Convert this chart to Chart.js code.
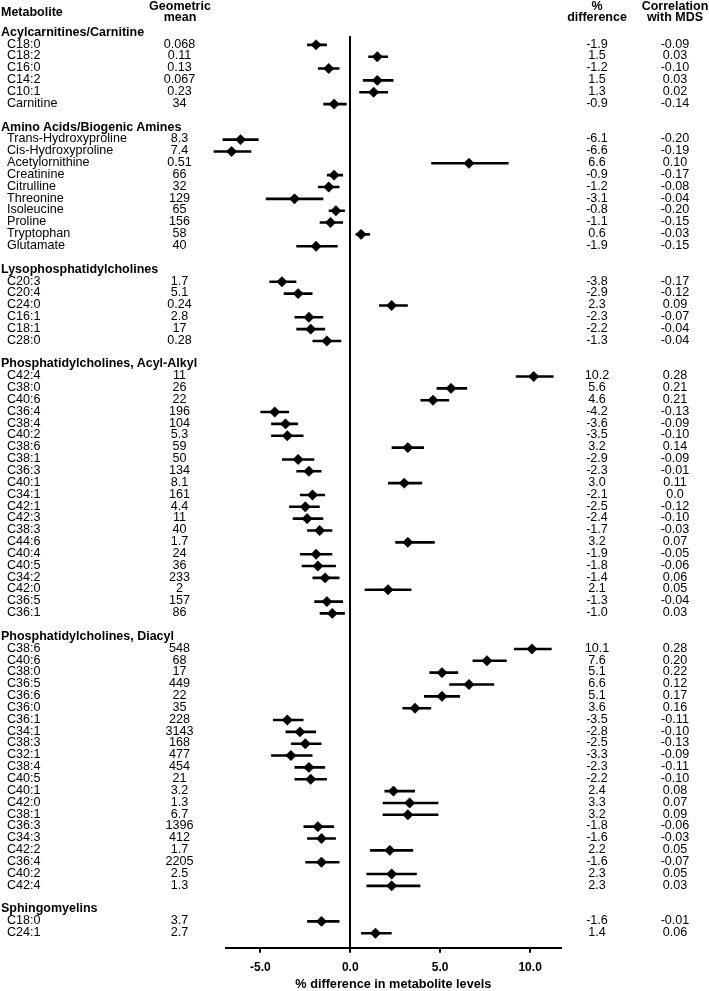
<!DOCTYPE html>
<html><head><meta charset="utf-8">
<script src="https://cdn.jsdelivr.net/npm/chart.js@4.4.1/dist/chart.umd.min.js"></script>
<style>
html,body{margin:0;padding:0;background:#fff;}
#wrap{position:relative;width:709px;height:991px;overflow:hidden;}
#c{position:absolute;left:0;top:0;}
.t{position:absolute;white-space:nowrap;font-family:'Liberation Sans',Arial,sans-serif;font-size:12.6px;line-height:14px;color:#000;}
.b{font-weight:bold;font-size:12.5px;}
.c{text-align:center;width:120px;}
</style></head><body>
<div id="wrap"><canvas id="c" width="709" height="991"></canvas></div>
<script>
// ---- data ----
const groupNames = ['Acylcarnitines/Carnitine','Amino Acids/Biogenic Amines','Lysophosphatidylcholines',
  'Phosphatidylcholines, Acyl-Alkyl','Phosphatidylcholines, Diacyl','Sphingomyelins'];
const groupSizes = [6,10,6,21,21,2];

const metabolites = [
  'C18:0','C18:2','C16:0','C14:2','C10:1','Carnitine',
  'Trans-Hydroxyproline','Cis-Hydroxyproline','Acetylornithine','Creatinine','Citrulline','Threonine','Isoleucine','Proline','Tryptophan','Glutamate',
  'C20:3','C20:4','C24:0','C16:1','C18:1','C28:0',
  'C42:4','C38:0','C40:6','C36:4','C38:4','C40:2','C38:6','C38:1','C36:3','C40:1','C34:1','C42:1','C42:3','C38:3','C44:6','C40:4','C40:5','C34:2','C42:0','C36:5','C36:1',
  'C38:6','C40:6','C38:0','C36:5','C36:6','C36:0','C36:1','C34:1','C38:3','C32:1','C38:4','C40:5','C40:1','C42:0','C38:1','C36:3','C34:3','C42:2','C36:4','C40:2','C42:4',
  'C18:0','C24:1'];

const geoMeans = [
  '0.068','0.11','0.13','0.067','0.23','34',
  '8.3','7.4','0.51','66','32','129','65','156','58','40',
  '1.7','5.1','0.24','2.8','17','0.28',
  '11','26','22','196','104','5.3','59','50','134','8.1','161','4.4','11','40','1.7','24','36','233','2','157','86',
  '548','68','17','449','22','35','228','3143','168','477','454','21','3.2','1.3','6.7','1396','412','1.7','2205','2.5','1.3',
  '3.7','2.7'];

const pctDiff = [
  -1.9,1.5,-1.2,1.5,1.3,-0.9,
  -6.1,-6.6,6.6,-0.9,-1.2,-3.1,-0.8,-1.1,0.6,-1.9,
  -3.8,-2.9,2.3,-2.3,-2.2,-1.3,
  10.2,5.6,4.6,-4.2,-3.6,-3.5,3.2,-2.9,-2.3,3.0,-2.1,-2.5,-2.4,-1.7,3.2,-1.9,-1.8,-1.4,2.1,-1.3,-1.0,
  10.1,7.6,5.1,6.6,5.1,3.6,-3.5,-2.8,-2.5,-3.3,-2.3,-2.2,2.4,3.3,3.2,-1.8,-1.6,2.2,-1.6,2.3,2.3,
  -1.6,1.4];

const ciLow = [
  -2.4,1.0,-1.8,0.7,0.5,-1.5,
  -7.1,-7.6,4.5,-1.3,-1.8,-4.7,-1.2,-1.7,0.3,-3.0,
  -4.5,-3.7,1.6,-3.1,-3.0,-2.1,
  9.2,4.8,3.9,-5.0,-4.4,-4.4,2.3,-3.8,-3.0,2.1,-2.8,-3.4,-3.2,-2.4,2.5,-2.8,-2.7,-2.1,0.8,-2.0,-1.7,
  9.1,6.8,4.4,5.5,4.1,2.9,-4.3,-3.6,-3.3,-4.4,-3.1,-3.1,1.9,1.8,1.8,-2.6,-2.4,1.1,-2.5,0.9,0.9,
  -2.4,0.6];

const ciHigh = [
  -1.3,2.1,-0.6,2.4,2.1,-0.2,
  -5.1,-5.5,8.8,-0.4,-0.6,-1.5,-0.3,-0.4,1.1,-0.7,
  -3.0,-2.1,3.2,-1.5,-1.4,-0.5,
  11.3,6.5,5.5,-3.4,-2.9,-2.6,4.1,-2.0,-1.6,4.0,-1.4,-1.7,-1.5,-1.0,4.7,-1.0,-0.8,-0.6,3.4,-0.4,-0.3,
  11.2,8.7,6.0,8.0,6.1,4.5,-2.6,-1.9,-1.6,-2.1,-1.4,-1.3,3.6,4.9,4.9,-0.9,-0.8,3.5,-0.6,3.7,3.9,
  -0.6,2.3];

const corrMDS = [
  '-0.09','0.03','-0.10','0.03','0.02','-0.14',
  '-0.20','-0.19','0.10','-0.17','-0.08','-0.04','-0.20','-0.15','-0.03','-0.15',
  '-0.17','-0.12','0.09','-0.07','-0.04','-0.04',
  '0.28','0.21','0.21','-0.13','-0.09','-0.10','0.14','-0.09','-0.01','0.11','0.0','-0.12','-0.10','-0.03','0.07','-0.05','-0.06','0.06','0.05','-0.04','0.03',
  '0.28','0.20','0.22','0.12','0.17','0.16','-0.11','-0.10','-0.13','-0.09','-0.11','-0.10','0.08','0.07','0.09','-0.06','-0.03','0.05','-0.07','0.05','0.03',
  '-0.01','0.06'];

const xTickValues = [-5, 0, 5, 10];

// ---- row layout (header row, items, blank row per group) ----
const headerRows = [], itemRows = [];
let r = 0;
groupSizes.forEach(n => {
  headerRows.push(r);
  for (let i = 0; i < n; i++) itemRows.push(r + 1 + i);
  r += n + 2;
});

const pointData = pctDiff.map((v, i) => ({x: v, y: itemRows[i]}));
const ciData = [];
ciLow.forEach((lo, i) => {
  ciData.push({x: lo, y: itemRows[i]}, {x: ciHigh[i], y: itemRows[i]}, {x: null, y: itemRows[i]});
});

const chart = new Chart(document.getElementById('c'), {
  type: 'scatter',
  data: {datasets: [
    {data: pointData, pointStyle: 'rectRot', pointRadius: 5.2, pointBackgroundColor: '#000',
     pointBorderColor: '#000', pointBorderWidth: 0.5, showLine: false, clip: false},
    {data: ciData, showLine: true, borderColor: '#000', borderWidth: 2.6, pointRadius: 0,
     spanGaps: false, clip: false, borderCapStyle: 'butt'}
  ]},
  options: {
    responsive: false, animation: false, devicePixelRatio: 1, events: [],
    layout: {padding: {left: 226, right: 148.3, top: 36, bottom: 0}},
    plugins: {legend: {display: false}, tooltip: {enabled: false}},
    scales: {
      x: {
        type: 'linear', min: -6.91, max: 11.70,
        afterBuildTicks: s => { s.ticks = xTickValues.map(v => ({value: v})); },
        afterFit: s => { s.height = 43.3; },
        grid: {
          color: c => (c.tick && c.tick.value === 0) ? '#000' : 'rgba(0,0,0,0)',
          lineWidth: 2, tickLength: 5, tickColor: '#000', tickWidth: 2, drawOnChartArea: true
        },
        border: {display: true, color: '#000', width: 2},
        ticks: {color: '#000', padding: 8, maxRotation: 0, autoSkip: false,
          font: {family: "'Liberation Sans', Arial, sans-serif", size: 12, weight: 'bold'},
          callback: v => Number(v).toFixed(1)},
        title: {display: true, text: '% difference in metabolite levels', color: '#000',
          padding: {top: 0, bottom: 0},
          font: {family: "'Liberation Sans', Arial, sans-serif", size: 12.7, weight: 'bold', lineHeight: 1}}
      },
      y: {type: 'linear', reverse: true, min: 0.253, max: 77.22, display: false}
    }
  }
});

// ---- table text placed on the chart's own row scale ----
const wrap = document.getElementById('wrap');
function addText(txt, cls, left, top) {
  const d = document.createElement('div');
  d.className = 't ' + cls;
  d.textContent = txt;
  d.style.left = left + 'px';
  d.style.top = top + 'px';
  wrap.appendChild(d);
}
const yS = chart.scales.y;
const rowTop = row => yS.getPixelForValue(row) - 8.25;

// column headers
addText('Metabolite', 'b', 1, 5.2);
addText('Geometric', 'b c', 180 - 60, -0.6);
addText('mean', 'b c', 180 - 60, 10.4);
addText('%', 'b c', 597 - 60, -0.6);
addText('difference', 'b c', 597 - 60, 10.4);
addText('Correlation', 'b c', 675 - 60, -0.6);
addText('with MDS', 'b c', 675 - 60, 10.4);

groupNames.forEach((g, i) => addText(g, 'b', 1, rowTop(headerRows[i])));
metabolites.forEach((m, i) => {
  const t = rowTop(itemRows[i]);
  addText(m, '', 7, t);
  addText(geoMeans[i], 'c', 179.5 - 60, t);
  addText(pctDiff[i].toFixed(1), 'c', 597 - 60, t);
  addText(corrMDS[i], 'c', 675 - 60, t);
});
</script>
</body></html>
